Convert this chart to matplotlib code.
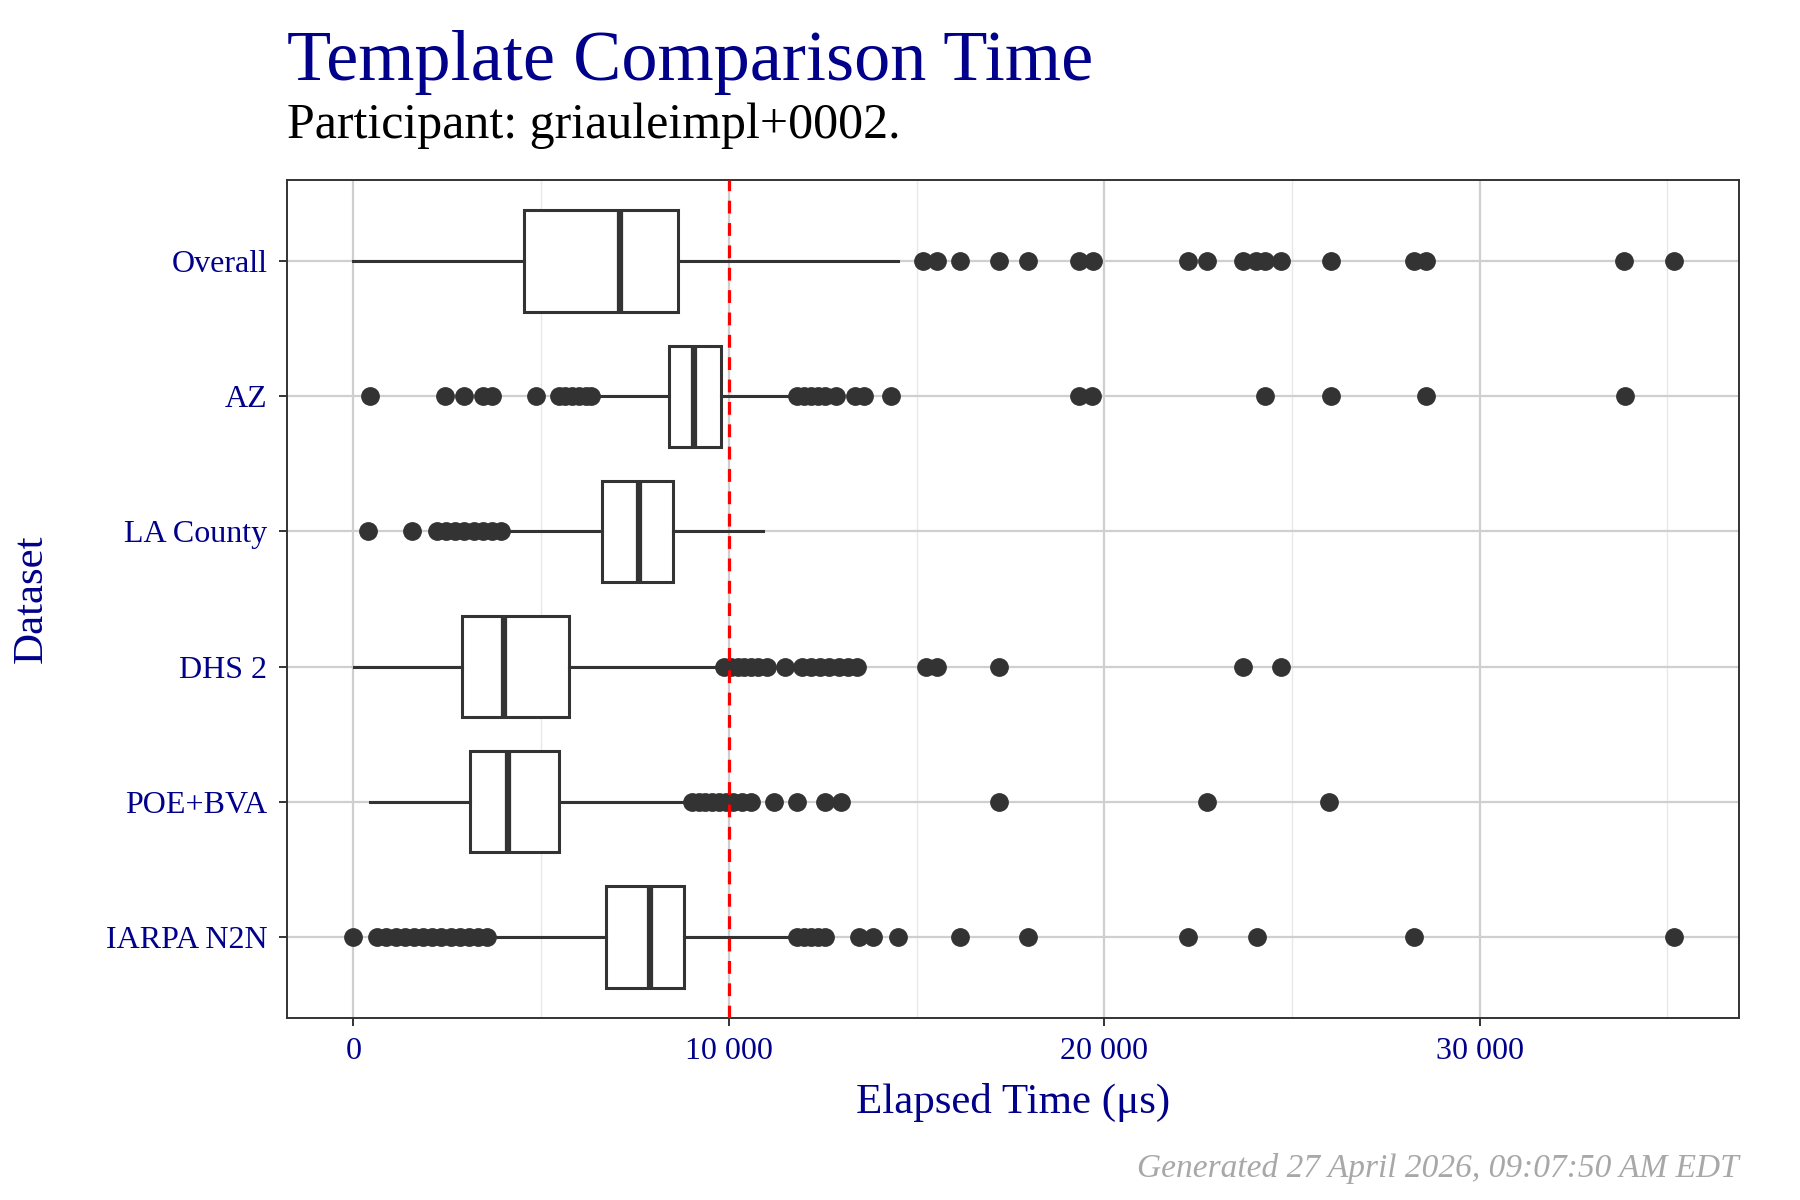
import matplotlib as mpl
mpl.use('Agg')
import matplotlib.pyplot as plt
from matplotlib.ticker import FuncFormatter, MultipleLocator

plt.rcParams['font.family'] = ['Liberation Serif', 'DejaVu Serif']

# datasets, bottom to top
datasets = ["IARPA N2N", "POE+BVA", "DHS 2", "LA County", "AZ", "Overall"]

# box stats (microseconds)
q1 = [6725, 3106, 2898, 6627, 8400, 4549]
med = [7910, 4121, 4022, 7604, 9071, 7092]
q3 = [8802, 5466, 5734, 8523, 9806, 8656]
whislo = [3667, 451, 24, 4059, 6590, 0]
whishi = [11641, 8829, 9745, 10906, 11641, 14515]

# outliers
out_iarpa = [0, 634, 879, 1124, 1369, 1614, 1856, 2101, 2346, 2591, 2836, 3081, 3326, 3569,
             11823, 12006, 12190, 12374, 12558, 13474, 13841, 14515, 16164,
             17980, 22233, 24068, 28250, 35185]
out_poe = [9010, 9194, 9378, 9562, 9745, 9929, 10113, 10355, 10600, 11213, 11823,
           12558, 12987, 17205, 22748, 25989]
out_dhs = [9868, 10052, 10235, 10417, 10600, 10784, 11029, 11492, 11945, 12190, 12435,
           12680, 12925, 13170, 13415, 15248, 15554, 17205, 23701, 24705]
out_la = [389, 1553, 2224, 2469, 2714, 2959, 3204, 3449, 3694, 3937]
out_az = [451, 2432, 2959, 3446, 3691, 4853, 5466, 5650, 5834, 6017, 6199, 6321,
          11823, 12006, 12190, 12374, 12558, 12864, 13352, 13597, 14332,
          19325, 19666, 24277, 26050, 28556, 33864]
out_overall = [15186, 15554, 16164, 17205, 17980, 19325, 19690, 22233, 22748,
               23705, 24044, 24291, 24705, 26026, 28250, 28567, 33851, 35185]
outliers = [out_iarpa, out_poe, out_dhs, out_la, out_az, out_overall]

threshold = 10000

navy = '#00008B'
dark = '#333333'

stats = []
for i in range(len(datasets)):
    stats.append(dict(label=datasets[i], q1=q1[i], med=med[i], q3=q3[i],
                      whislo=whislo[i], whishi=whishi[i], fliers=outliers[i]))

fig = plt.figure(figsize=(18, 12), dpi=100)
ax = fig.add_axes([0.1594, 0.1517, 0.8066, 0.6983])

pos = list(range(1, len(datasets) + 1))
ax.bxp(stats, positions=pos, orientation='horizontal', widths=0.75,
       showcaps=False, patch_artist=True,
       boxprops=dict(facecolor='white', edgecolor=dark, linewidth=2.2),
       whiskerprops=dict(color=dark, linewidth=2.2),
       medianprops=dict(color=dark, linewidth=4.5, solid_capstyle='butt'),
       flierprops=dict(marker='o', markerfacecolor=dark, markeredgecolor=dark,
                       markersize=12.5, linestyle='none'))

ax.axvline(threshold, color='red', linestyle=(0, (4, 3)), linewidth=2.3, zorder=5)

ax.set_xlim(-1768, 36900)
ax.set_ylim(0.4, len(datasets) + 0.6)
ax.xaxis.set_major_locator(MultipleLocator(10000))
ax.xaxis.set_minor_locator(MultipleLocator(5000))
ax.xaxis.set_major_formatter(FuncFormatter(lambda v, p: f"{int(v):,}".replace(",", " ")))
ax.set_yticks(pos)
ax.set_yticklabels(datasets)

ax.grid(True, which='major', color='#cfcfcf', linewidth=1.6, zorder=0)
ax.grid(True, which='minor', axis='x', color='#e8e8e8', linewidth=1.0, zorder=0)
ax.set_axisbelow(True)

for s in ax.spines.values():
    s.set_color(dark)
    s.set_linewidth(1.4)

ax.tick_params(axis='both', which='major', labelsize=23, labelcolor=navy,
               color=dark, length=6, width=1.4)
ax.tick_params(axis='y', which='major', pad=8)
ax.tick_params(axis='x', which='major', pad=8)
ax.tick_params(axis='both', which='minor', length=0)

ax.set_xlabel('Elapsed Time (μs)', fontsize=31, color=navy, labelpad=12)
ax.set_ylabel('Dataset', fontsize=31, color=navy, labelpad=40)

fig.text(0.1594, 0.933, 'Template Comparison Time', fontsize=52, color=navy,
         ha='left', va='baseline')
fig.text(0.1594, 0.885, 'Participant: griauleimpl+0002.', fontsize=36, color='black',
         ha='left', va='baseline')
fig.text(0.966, 0.019, 'Generated 27 April 2026, 09:07:50 AM EDT', fontsize=24,
         color='#a8a8a8', style='italic', ha='right', va='baseline')

plt.savefig('out.png')
plt.close()
